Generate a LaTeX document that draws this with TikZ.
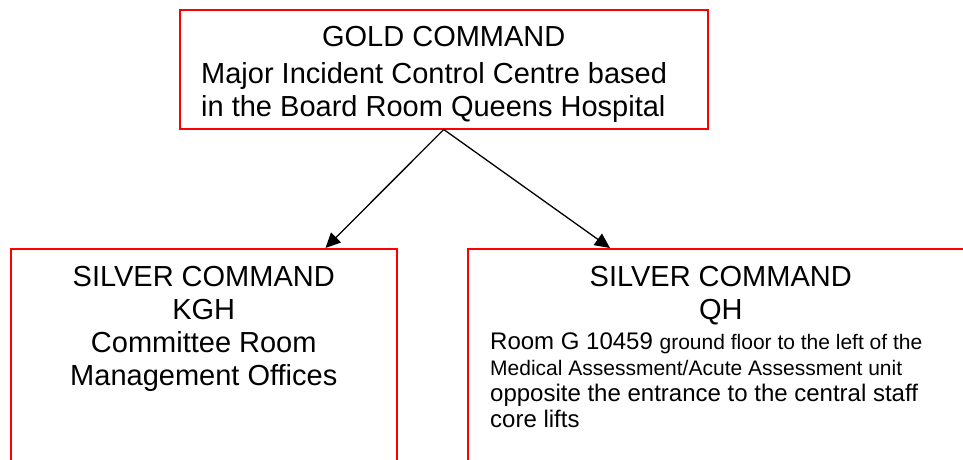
\documentclass[tikz,border=0pt]{standalone}
\usepackage{fontspec}
\setmainfont{Liberation Sans}
\usetikzlibrary{arrows.meta,positioning,calc}

\begin{document}
\begin{tikzpicture}[x=1pt,y=-1pt,
  cmdbox/.style={draw=red,line width=1.5pt,inner sep=0pt,anchor=north west},
  cmdtext/.style={inner sep=0pt,align=center,font=\fontsize{29}{33}\selectfont},
  cmdline/.style={draw,line width=1.3pt,-{Triangle[length=15pt,width=14pt]}}]
  \useasboundingbox (0,0) rectangle (963,459);
  \clip (0,0) rectangle (963,459);

  % gold command
  \node[cmdbox,minimum width=528pt,minimum height=119pt] (gold) at (179,9) {};
  \node[cmdtext,anchor=north] (goldtitle) at ($(gold.north)+(0,17)$) {GOLD COMMAND};
  \node[cmdtext,align=left,anchor=north west] (goldplace) at ($(gold.north west)+(22,53)$)
    {Major Incident Control Centre based\\in the Board Room Queens Hospital};

  % silver commands (lower edge runs off the page)
  \node[cmdbox,minimum width=386pt,minimum height=240pt] (kgh) at (10,248) {};
  \node[cmdbox,minimum width=506pt,minimum height=240pt] (qh) at (467,248) {};

  \node[cmdtext,anchor=north] (kghtitle) at ($(kgh.north)+(0,18)$)
    {SILVER COMMAND\\KGH\\Committee Room\\Management Offices};
  \node[cmdtext,anchor=north] (qhtitle) at ($(qh.north)+(0,18)$)
    {SILVER COMMAND\\QH};
  \node[anchor=north west,inner sep=0pt,align=left,
        font=\fontsize{24}{26}\selectfont] (qhroom) at ($(qh.north west)+(23,84.5)$)
    {Room G 10459 {\fontsize{21}{26}\selectfont ground floor to the left of the}\\
     {\fontsize{21}{26}\selectfont Medical Assessment/Acute Assessment unit}\\
     opposite the entrance to the central staff\\
     core lifts};

  % arrows gold -> silver
  \draw[cmdline] (gold.south) -- ($(kgh.north east)+(-72,0)$);
  \draw[cmdline] (gold.south) -- ($(qh.north west)+(143,0)$);
\end{tikzpicture}
\end{document}
